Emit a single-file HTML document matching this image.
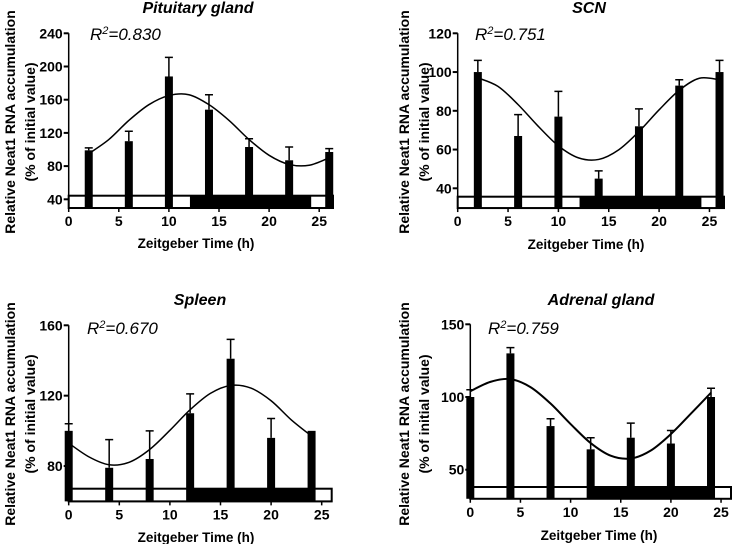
<!DOCTYPE html>
<html><head><meta charset="utf-8"><style>
body{margin:0;background:#fff;width:732px;height:544px;overflow:hidden}
svg{display:block;font-family:"Liberation Sans",Arial,sans-serif}
</style></head><body>
<svg id="fig" width="732" height="544" viewBox="0 0 732 544"></svg>
<script>
// Pituitary gland
const p1Times=[2,6,10,14,18,22,26];
const p1Values=[99,110,188,148,103,87,97];
const p1Errors=[102,122,211,166,113,103,101];
const p1CurveT=[2,4,6,8,10,12,14,16,18,20,22,24,26];
const p1CurveV=[95,112,135,154,165,166,154,135,112,93,82,81,90];
const p1Ticks=[40,80,120,160,200,240];
// SCN
const p2Times=[2,6,10,14,18,22,26];
const p2Values=[100,67,77,45,72,93,100];
const p2Errors=[106,78,90,49,81,96,106];
const p2CurveT=[2,4,6,8,10,12,14,16,18,20,22,24,26];
const p2CurveV=[97,92.6,83.2,72,61.9,55.7,54.9,59.9,69.3,80.5,90.6,96.8,96];
const p2Ticks=[40,60,80,100,120];
// Spleen
const p3Times=[0,4,8,12,16,20,24];
const p3Values=[100,79,84,110,141,96,100];
const p3Errors=[104,95,100,121,152,107,100];
const p3CurveT=[0,2,4,6,8,10,12,14,16,18,20,22,24];
const p3CurveV=[93,85.2,80.7,82.2,89.4,100.3,112,121.3,125.8,124.3,117.1,106.2,97];
const p3Ticks=[80,120,160];
// Adrenal gland
const p4Times=[0,4,8,12,16,20,24];
const p4Values=[100,130,80,64,72,68,100];
const p4Errors=[105,134,85,72,82,77,106];
const p4CurveT=[0,2,4,6,8,10,12,14,16,18,20,22,24];
const p4CurveV=[104,110.4,112.3,106.8,95.5,81.4,68.3,59.6,57.7,63.2,74.5,88.6,103];
const p4Ticks=[50,100,150];
const xTicks=[0,5,10,15,20,25];

const NS="http://www.w3.org/2000/svg";
const svg=document.getElementById('fig');
function mk(tag,attrs,parent,txt){const e=document.createElementNS(NS,tag);for(const k in attrs)e.setAttribute(k,attrs[k]);if(txt!==undefined)e.textContent=txt;(parent||svg).appendChild(e);return e;}

function panel(cfg){
  const g=mk('g',{});
  
  
  const xs=t=>cfg.x0+t*cfg.pxh;
  const ys=v=>cfg.yTop+(cfg.vTop-v)*cfg.pxv;
  const yBot=ys(cfg.vMin);
  const tt=mk('text',{x:cfg.titleX,y:cfg.titleY,'text-anchor':'middle','font-size':16,'font-weight':'bold','font-style':'italic'},g,cfg.title);
  
  
  const lb=mk('rect',{x:xs(0),y:cfg.ldTop,width:cfg.ldRight-xs(0),height:yBot-cfg.ldTop,fill:'#fff',stroke:'#000','stroke-width':2},g);
  
  
  const db=mk('rect',{x:xs(12.1),y:cfg.ldTop,width:xs(24.2)-xs(12.1),height:yBot-cfg.ldTop,fill:'#000'},g);
  
  
  cfg.times.forEach((t,i)=>{
    const v=cfg.values[i],e=cfg.errors[i],cx=xs(t);
    const b=mk('rect',{x:cx-4,y:ys(v),width:8,height:yBot-ys(v),fill:'#000'},g);
    
    
    if(e>v){
      const el=mk('path',{d:`M${cx} ${ys(v)}V${ys(e)}M${cx-4} ${ys(e)}H${cx+4}`,stroke:'#000','stroke-width':1.5,fill:'none'},g);
      
      
    }
  });
  const pts=cfg.ct.map((t,i)=>[xs(t),ys(cfg.cv[i])]);
  let d=`M${pts[0][0]} ${pts[0][1]}`;
  for(let i=0;i<pts.length-1;i++){
    const p0=pts[Math.max(0,i-1)],p1=pts[i],p2=pts[i+1],p3=pts[Math.min(pts.length-1,i+2)];
    d+=`C${p1[0]+(p2[0]-p0[0])/6} ${p1[1]+(p2[1]-p0[1])/6} ${p2[0]-(p3[0]-p1[0])/6} ${p2[1]-(p3[1]-p1[1])/6} ${p2[0]} ${p2[1]}`;
  }
  const cu=mk('path',{d:d,fill:'none',stroke:'#000','stroke-width':cfg.cw||1.5},g);
  
  
  const ax=mk('path',{d:`M${xs(0)} ${ys(cfg.vTopAxis)}V${yBot}H${xs(26)}`,stroke:'#000','stroke-width':1.5,fill:'none'},g);
  
  
  cfg.yticks.forEach(v=>{
    mk('path',{d:`M${xs(0)-5} ${ys(v)}H${xs(0)}`,stroke:'#000','stroke-width':2},g);
    const l=mk('text',{x:xs(0)-6,y:ys(v)+5,'text-anchor':'end','font-size':14,'font-weight':'bold'},g,v);
    
    
  });
  xTicks.forEach(t=>{
    mk('path',{d:`M${xs(t)} ${yBot}V${yBot+4}`,stroke:'#000','stroke-width':1.5},g);
    const l=mk('text',{x:xs(t),y:yBot+18,'text-anchor':'middle','font-size':14,'font-weight':'bold'},g,t);
    
    
  });
  const xt=mk('text',{x:cfg.xtX,y:cfg.xtY,'text-anchor':'middle','font-size':13.5,'font-weight':'bold'},g,'Zeitgeber Time (h)');
  
  
  const yt=mk('text',{transform:`translate(${cfg.ytX},${cfg.ytY}) rotate(-90)`,'text-anchor':'middle','font-size':14,'font-weight':'bold'},g);
  
  
  mk('tspan',{x:0,y:0},yt,'Relative Neat1 RNA accumulation');
  mk('tspan',{x:0,y:20},yt,'(% of initial value)');
  const r=mk('text',{x:cfg.rX,y:cfg.rY,'font-size':17,'font-style':'italic'},g);
  
  
  mk('tspan',{},r,'R');
  mk('tspan',{dy:-6,'font-size':11},r,'2');
  mk('tspan',{dy:6},r,'='+cfg.r2);
}

panel({name:'pituitary',title:'Pituitary gland',titleX:198,titleY:13,x0:68.7,pxh:10.02,yTop:33.3,vTop:240,vTopAxis:240,pxv:0.83,vMin:29.5,ldTop:195.7,ldRight:333,
  times:p1Times,values:p1Values,errors:p1Errors,ct:p1CurveT,cv:p1CurveV,yticks:p1Ticks,xtX:196,xtY:248,ytX:15,ytY:122,rX:90,rY:40,r2:'0.830'});
panel({name:'scn',title:'SCN',titleX:589,titleY:13,x0:457.7,pxh:10.07,yTop:33.3,vTop:120,vTopAxis:120,pxv:1.9375,vMin:29.8,ldTop:196.7,ldRight:724,
  times:p2Times,values:p2Values,errors:p2Errors,ct:p2CurveT,cv:p2CurveV,yticks:p2Ticks,xtX:586,xtY:249,ytX:409,ytY:122,rX:475,rY:40,r2:'0.751'});
panel({name:'spleen',title:'Spleen',titleX:200,titleY:305,x0:68.7,pxh:10.12,yTop:325.3,vTop:160,vTopAxis:160,pxv:1.759,vMin:59.9,ldTop:488.7,ldRight:331.7,
  times:p3Times,values:p3Values,errors:p3Errors,ct:p3CurveT,cv:p3CurveV,yticks:p3Ticks,xtX:196,xtY:542,ytX:15,ytY:414,rX:87,rY:334,r2:'0.670'});
panel({name:'adrenal',title:'Adrenal gland',titleX:601,titleY:305,x0:470.3,pxh:10.03,yTop:324.3,vTop:150,vTopAxis:150,pxv:1.454,vMin:30,ldTop:487,ldRight:731,cw:2,
  times:p4Times,values:p4Values,errors:p4Errors,ct:p4CurveT,cv:p4CurveV,yticks:p4Ticks,xtX:599,xtY:540,ytX:409,ytY:414,rX:488,rY:334,r2:'0.759'});
</script>
</body></html>
